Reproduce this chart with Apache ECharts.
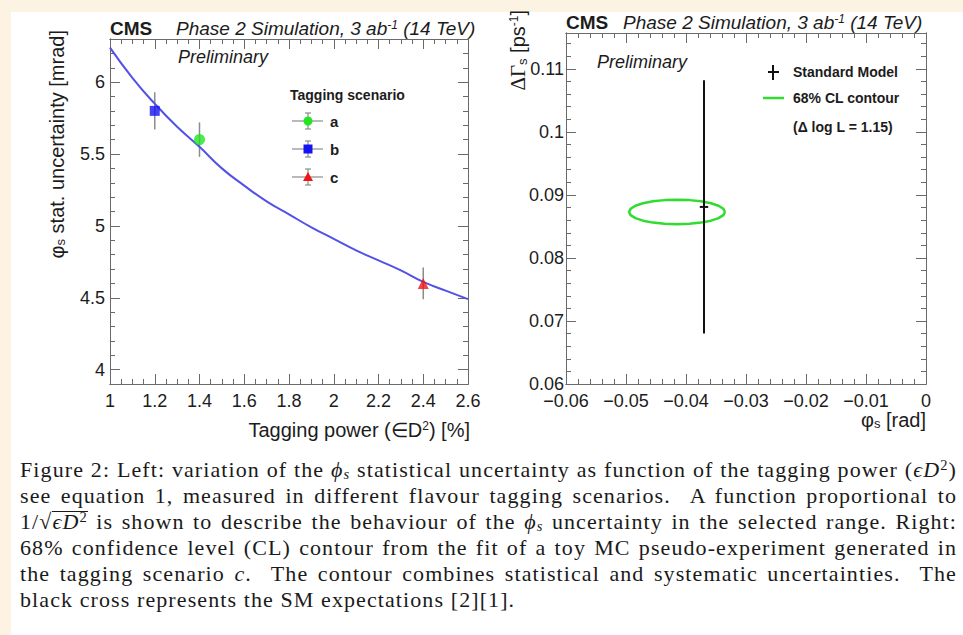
<!DOCTYPE html>
<html>
<head>
<meta charset="utf-8">
<script src="https://cdn.jsdelivr.net/npm/echarts@6/dist/echarts.min.js"></script>
<style>
html,body{margin:0;padding:0;}
body{width:963px;height:635px;background:#fcf3e2;position:relative;overflow:hidden;}
#panel{position:absolute;left:11px;top:12px;right:0;bottom:0;background:#fff;}
#chart{position:absolute;left:0;top:0;width:963px;height:450px;}
#caption,#measure{font-family:'Liberation Serif','Times New Roman',serif;font-size:22px;line-height:26px;color:#1a1a1a;}
#caption{position:absolute;left:20px;top:457px;width:937px;}
#measure{position:absolute;left:0;top:700px;white-space:nowrap;visibility:hidden;}
#caption .l{text-align:justify;text-align-last:justify;}
#caption .last{text-align:left;text-align-last:left;}
sub,sup{font-size:66%;line-height:0;}
sub{vertical-align:-0.12em;}
sup{vertical-align:0.5em;}
.ov{display:inline-block;line-height:19px;border-top:1px solid #1a1a1a;}
</style>
</head>
<body>
<div id="panel"></div>
<div id="chart"></div>
<div id="caption">
<div class="l">Figure 2: Left: variation of the <i>ϕ<sub>s</sub></i> statistical uncertainty as function of the tagging power (<i>ϵD</i><sup>2</sup>)</div>
<div class="l">see equation 1, measured in different flavour tagging scenarios. &nbsp;A function proportional to</div>
<div class="l">1/√<span class="ov"><i>ϵD</i><sup>2</sup></span> is shown to describe the behaviour of the <i>ϕ<sub>s</sub></i> uncertainty in the selected range. Right:</div>
<div class="l">68% confidence level (CL) contour from the fit of a toy MC pseudo-experiment generated in</div>
<div class="l">the tagging scenario <i>c</i>. &nbsp;The contour combines statistical and systematic uncertainties. &nbsp;The</div>
<div class="last">black cross represents the SM expectations [2][1].</div>
</div>
<div id="measure"></div>
<script>
// ---------- data (left panel) ----------
const curveX = [1.0, 1.1, 1.2, 1.3, 1.4, 1.5, 1.6, 1.7, 1.8, 1.9, 2.0, 2.1, 2.2, 2.3, 2.4, 2.5, 2.6];
const curveY = [6.24, 6.03, 5.85, 5.69, 5.55, 5.40, 5.28, 5.17, 5.08, 4.99, 4.91, 4.83, 4.76, 4.69, 4.61, 4.55, 4.49];
const scenarioNames = ['a', 'b', 'c'];
const scenarioX = [1.4, 1.2, 2.4];
const scenarioY = [5.60, 5.80, 4.60];
const scenarioErr = [0.12, 0.13, 0.11];

// ---------- data (right panel) ----------
const smPhi = -0.0370, smPhiErr = 0.0007;
const smDG = 0.0881, smDGErr = 0.0201;
const contourPhi = [-0.03350, -0.03377, -0.03457, -0.03584, -0.03750, -0.03943, -0.04150, -0.04357, -0.04550, -0.04716, -0.04843, -0.04923, -0.04950,
                    -0.04923, -0.04843, -0.04716, -0.04550, -0.04357, -0.04150, -0.03943, -0.03750, -0.03584, -0.03457, -0.03377, -0.03350];
const contourDG = [0.08730, 0.08780, 0.08828, 0.08868, 0.08899, 0.08918, 0.08925, 0.08918, 0.08899, 0.08868, 0.08828, 0.08780, 0.08730,
                   0.08680, 0.08632, 0.08592, 0.08561, 0.08542, 0.08535, 0.08542, 0.08561, 0.08592, 0.08632, 0.08680, 0.08730];

// ---------- tick labels ----------
const leftXTicks = [1, 1.2, 1.4, 1.6, 1.8, 2, 2.2, 2.4, 2.6];
const leftYTicks = [4, 4.5, 5, 5.5, 6];
const rightXTicks = [-0.06, -0.05, -0.04, -0.03, -0.02, -0.01, 0];
const rightYTicks = [0.06, 0.07, 0.08, 0.09, 0.1, 0.11];

function ticksFrom(start, end, step) {
  const out = []; const n = Math.round((end - start) / step);
  for (let i = 0; i <= n; i++) out.push(+(start + i * step).toFixed(6));
  return out;
}
const leftXMinor = ticksFrom(1, 2.6, 0.05);
const leftYMinor = ticksFrom(4.0, 6.3, 0.1);
const rightXMinor = ticksFrom(-0.06, 0, 0.002);
const rightYMinor = ticksFrom(0.06, 0.114, 0.002);

// ---------- caption letter-spacing fit (Palatino-like width) ----------
(function fitCaption() {
  const cap = document.getElementById('caption');
  const meas = document.getElementById('measure');
  const W = 937;
  let ls = 1.5;
  cap.querySelectorAll('.l').forEach(el => {
    meas.innerHTML = el.innerHTML;
    const w = meas.getBoundingClientRect().width;
    const n = meas.textContent.length;
    ls = Math.min(ls, (W - 3 - w) / n);
  });
  cap.style.letterSpacing = Math.max(0, ls) + 'px';
  meas.innerHTML = '';
})();

const FRAME = '#6a6a6a';
const TXT = '#1c1c1c';
const SANS = "'Liberation Sans', Arial, Helvetica, sans-serif";
const SERIF = "'Liberation Serif', 'Times New Roman', serif";

function mkAxis(gridIndex, position, min, max, ticks, len, labelOpts) {
  return {
    type: 'value', gridIndex: gridIndex, position: position, min: min, max: max,
    axisLine: { show: true, onZero: false, lineStyle: { color: FRAME, width: 1 } },
    axisTick: { show: true, inside: true, length: len, customValues: ticks, lineStyle: { color: FRAME, width: 1 } },
    axisLabel: labelOpts ? Object.assign({ show: true, customValues: ticks, color: TXT, fontFamily: SANS, fontSize: 18, showMinLabel: true, showMaxLabel: true }, labelOpts) : { show: false },
    splitLine: { show: false }, minorTick: { show: false }, minorSplitLine: { show: false }
  };
}
const minusFmt = v => (v < 0 ? '\u2212' + String(Math.abs(v)) : String(v));

const LX = [1, 2.6], LY = [3.9, 6.3], RX = [-0.06, 0], RY = [0.06, 0.1157];
const xAxes = [
  mkAxis(0, 'bottom', LX[0], LX[1], leftXTicks, 10, { margin: 8 }),
  mkAxis(0, 'bottom', LX[0], LX[1], leftXMinor, 5, null),
  mkAxis(0, 'top', LX[0], LX[1], leftXTicks, 10, null),
  mkAxis(0, 'top', LX[0], LX[1], leftXMinor, 5, null),
  mkAxis(1, 'bottom', RX[0], RX[1], rightXTicks, 10, { margin: 8, formatter: minusFmt }),
  mkAxis(1, 'bottom', RX[0], RX[1], rightXMinor, 5, null),
  mkAxis(1, 'top', RX[0], RX[1], rightXTicks, 10, null),
  mkAxis(1, 'top', RX[0], RX[1], rightXMinor, 5, null)
];
const yAxes = [
  mkAxis(0, 'left', LY[0], LY[1], leftYTicks, 10, { margin: 5 }),
  mkAxis(0, 'left', LY[0], LY[1], leftYMinor, 5, null),
  mkAxis(0, 'right', LY[0], LY[1], leftYTicks, 10, null),
  mkAxis(0, 'right', LY[0], LY[1], leftYMinor, 5, null),
  mkAxis(1, 'left', RY[0], RY[1], rightYTicks, 10, { margin: 2 }),
  mkAxis(1, 'left', RY[0], RY[1], rightYMinor, 5, null),
  mkAxis(1, 'right', RY[0], RY[1], rightYTicks, 10, null),
  mkAxis(1, 'right', RY[0], RY[1], rightYMinor, 5, null)
];

const markerStyle = [
  { symbol: 'circle', color: '#22e622', size: 11 },
  { symbol: 'rect', color: '#1414f2', size: 10 },
  { symbol: 'triangle', color: '#f01414', size: 11 }
];

const series = [
  {
    name: 'fit', type: 'line', xAxisIndex: 0, yAxisIndex: 0, z: 2,
    data: curveX.map((x, i) => [x, curveY[i]]),
    smooth: true, showSymbol: false, symbol: 'none',
    lineStyle: { color: '#5252e6', width: 2 }
  },
  {
    name: 'errors', type: 'custom', xAxisIndex: 0, yAxisIndex: 0, z: 1,
    data: scenarioX.map((x, i) => [x, scenarioY[i] - scenarioErr[i], scenarioY[i] + scenarioErr[i]]),
    encode: { x: 0, y: [1, 2] },
    renderItem: function (params, api) {
      const p1 = api.coord([api.value(0), api.value(1)]);
      const p2 = api.coord([api.value(0), api.value(2)]);
      return { type: 'line', shape: { x1: p1[0], y1: p1[1], x2: p2[0], y2: p2[1] }, style: { stroke: '#8c8c8c', lineWidth: 1.5 } };
    }
  }
];
scenarioNames.forEach((n, i) => {
  series.push({
    name: n, type: 'scatter', xAxisIndex: 0, yAxisIndex: 0, z: 3,
    symbol: markerStyle[i].symbol, symbolSize: markerStyle[i].size,
    itemStyle: { color: markerStyle[i].color },
    data: [[scenarioX[i], scenarioY[i]]]
  });
});
series.push({
  name: '68% CL contour', type: 'line', xAxisIndex: 4, yAxisIndex: 4, z: 2,
  data: contourPhi.map((x, i) => [x, contourDG[i]]),
  showSymbol: false, symbol: 'none', smooth: false,
  lineStyle: { color: '#2fdc2f', width: 2.5 }
});
series.push({
  name: 'Standard Model', type: 'custom', xAxisIndex: 4, yAxisIndex: 4, z: 3,
  data: [[smPhi, smDG, smPhiErr, smDGErr]],
  encode: { x: 0, y: 1 },
  renderItem: function (params, api) {
    const x = api.value(0), y = api.value(1), ex = api.value(2), ey = api.value(3);
    const t = api.coord([x, y + ey]), b = api.coord([x, y - ey]);
    const l = api.coord([x - ex, y]), r = api.coord([x + ex, y]);
    return { type: 'group', children: [
      { type: 'line', shape: { x1: t[0], y1: t[1], x2: b[0], y2: b[1] }, style: { stroke: '#111', lineWidth: 2 } },
      { type: 'line', shape: { x1: l[0], y1: l[1], x2: r[0], y2: r[1] }, style: { stroke: '#111', lineWidth: 2 } }
    ] };
  }
});

// ---------- text & legend graphics ----------
const rich = {
  sup: { fontSize: 12, fontFamily: SANS, verticalAlign: 'top', fill: TXT },
  sub: { fontSize: 13, fontFamily: SANS, verticalAlign: 'bottom', fill: TXT },
  supi: { fontSize: 12, fontFamily: SANS, fontStyle: 'italic', verticalAlign: 'top', fill: TXT },
  g: { fontSize: 21, fontFamily: SERIF, fill: TXT }
};
function txt(x, y, text, opt) {
  opt = opt || {};
  return {
    type: 'text', x: x, y: y, rotation: opt.rotation || 0, silent: true,
    style: Object.assign({
      text: text, fill: TXT, fontFamily: SANS, fontSize: opt.size || 19,
      fontWeight: opt.weight || 'normal', fontStyle: opt.style || 'normal',
      align: opt.align || 'left', verticalAlign: 'middle', rich: rich
    }, opt.extra || {})
  };
}
const graphics = [
  txt(110, 28, 'CMS', { weight: 'bold', size: 19 }),
  txt(176, 28, 'Phase 2 Simulation, 3 ab{supi|-1} (14 TeV)', { style: 'italic', size: 19 }),
  txt(178, 57, 'Preliminary', { style: 'italic', size: 18 }),
  txt(566, 22, 'CMS', { weight: 'bold', size: 19 }),
  txt(623, 22, 'Phase 2 Simulation, 3 ab{supi|-1} (14 TeV)', { style: 'italic', size: 19 }),
  txt(597, 62, 'Preliminary', { style: 'italic', size: 18 }),
  txt(57, 30, 'φ{sub|s} stat. uncertainty [mrad]', { size: 20, align: 'right', rotation: Math.PI / 2 }),
  txt(470, 430, 'Tagging power (∈D{sup|2}) [%]', { size: 20, align: 'right' }),
  txt(518, 10, '{g|ΔΓ}{sub|s} [ps{sup|-1}]', { size: 20, align: 'right', rotation: Math.PI / 2 }),
  txt(926, 420, 'φ{sub|s} [rad]', { size: 20, align: 'right' }),
  // left legend
  txt(290, 95, 'Tagging scenario', { weight: 'bold', size: 14 })
];
const legendY = [121, 149, 177];
scenarioNames.forEach((n, i) => {
  const y = legendY[i];
  graphics.push({ type: 'line', silent: true, shape: { x1: 292, y1: y, x2: 323, y2: y }, style: { stroke: '#8c8c8c', lineWidth: 1.2 } });
  graphics.push({ type: 'line', silent: true, shape: { x1: 308, y1: y - 8, x2: 308, y2: y + 8 }, style: { stroke: '#8c8c8c', lineWidth: 1.2 } });
  graphics.push({ type: 'line', silent: true, shape: { x1: 305, y1: y - 8, x2: 311, y2: y - 8 }, style: { stroke: '#8c8c8c', lineWidth: 1.2 } });
  graphics.push({ type: 'line', silent: true, shape: { x1: 305, y1: y + 8, x2: 311, y2: y + 8 }, style: { stroke: '#8c8c8c', lineWidth: 1.2 } });
  if (i === 0) graphics.push({ type: 'circle', silent: true, shape: { cx: 308, cy: y, r: 4.5 }, style: { fill: markerStyle[0].color } });
  if (i === 1) graphics.push({ type: 'rect', silent: true, shape: { x: 303.5, y: y - 4.5, width: 9, height: 9 }, style: { fill: markerStyle[1].color } });
  if (i === 2) graphics.push({ type: 'polygon', silent: true, shape: { points: [[308, y - 5], [313, y + 4], [303, y + 4]] }, style: { fill: markerStyle[2].color } });
  graphics.push(txt(330, y, n, { weight: 'bold', size: 15 }));
});
// right legend
graphics.push({ type: 'line', silent: true, shape: { x1: 773, y1: 65, x2: 773, y2: 80 }, style: { stroke: '#111', lineWidth: 2 } });
graphics.push({ type: 'line', silent: true, shape: { x1: 768, y1: 72, x2: 779, y2: 72 }, style: { stroke: '#111', lineWidth: 2 } });
graphics.push(txt(793, 72, 'Standard Model', { weight: 'bold', size: 14 }));
graphics.push({ type: 'line', silent: true, shape: { x1: 763, y1: 98, x2: 784, y2: 98 }, style: { stroke: '#2fdc2f', lineWidth: 2.5 } });
graphics.push(txt(793, 98, '68% CL contour', { weight: 'bold', size: 14 }));
graphics.push(txt(793, 127, '(Δ log L = 1.15)', { weight: 'bold', size: 14 }));

const chart = echarts.init(document.getElementById('chart'), null, { renderer: 'svg', width: 963, height: 450 });
chart.setOption({
  animation: false,
  backgroundColor: 'transparent',
  grid: [
    { left: 110, top: 39, width: 358, height: 345, containLabel: false, outerBoundsMode: 'none' },
    { left: 566, top: 33, width: 360, height: 351, containLabel: false, outerBoundsMode: 'none' }
  ],
  xAxis: xAxes,
  yAxis: yAxes,
  series: series,
  graphic: { elements: graphics }
});
</script>
</body>
</html>
